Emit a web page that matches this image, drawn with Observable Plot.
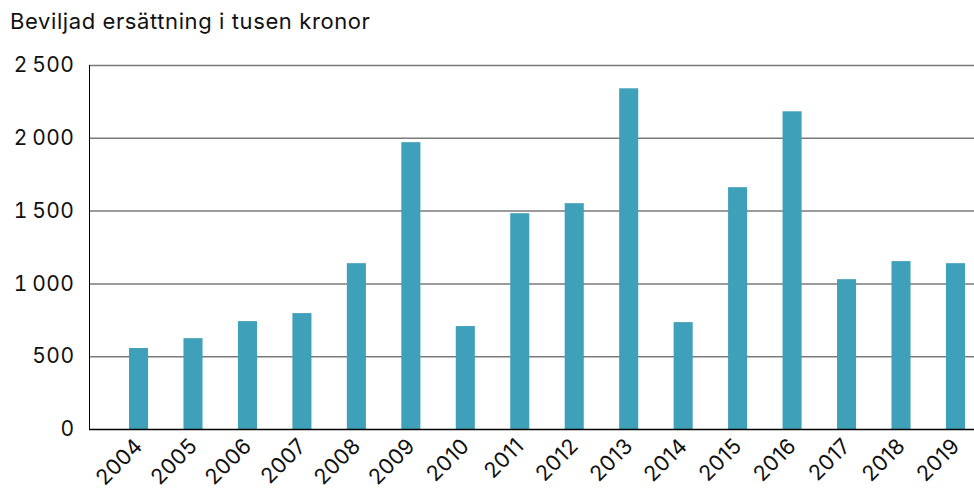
<!DOCTYPE html>
<html><head><meta charset="utf-8">
<script src="https://cdn.jsdelivr.net/npm/d3@7"></script>
<script src="https://cdn.jsdelivr.net/npm/@observablehq/plot@0.6"></script>
<style>
body{margin:0;background:#fff;font-family:Inter,"Noto Sans",sans-serif;color:#111;}
#title{height:34px;padding:9px 0 0 10px;font-size:22px;letter-spacing:0.6px;line-height:24px;box-sizing:content-box;}
#chart svg{display:block;}
#chart svg g[aria-label="y-axis tick label"] text{letter-spacing:0.5px;}
#chart svg g[aria-label="x-axis tick label"] text{letter-spacing:0.3px;}
</style></head><body>
<div id="title">Beviljad ersättning i tusen kronor</div>
<div id="chart"></div>
<script>
const years = ["2004","2005","2006","2007","2008","2009","2010","2011","2012","2013","2014","2015","2016","2017","2018","2019"];
const values = [556, 624, 741, 796, 1139, 1970, 707, 1482, 1551, 2340, 734, 1661, 2182, 1029, 1153, 1139];
const yTicks = [0, 500, 1000, 1500, 2000, 2500];
const yTickLabels = ["0", "500", "1\u2009000", "1\u2009500", "2\u2009000", "2\u2009500"];

const data = years.map((y, i) => ({year: y, value: values[i]}));
const labelOf = new Map(yTicks.map((t, i) => [t, yTickLabels[i]]));

const chart = Plot.plot({
  width: 974,
  height: 447,
  marginLeft: 89,
  marginRight: 0,
  marginTop: 22,
  marginBottom: 61,
  style: {fontFamily: "Inter, 'Noto Sans', sans-serif", fontSize: "20px", color: "#111", background: "#fff"},
  x: {type: "band", domain: years, range: [111.3, 982.7], paddingInner: 0.65, paddingOuter: 0.325, round: false, label: null},
  y: {domain: [0, 2500], label: null},
  marks: [
    Plot.ruleY(yTicks.filter(d => d > 0), {stroke: "#7a7a7a", strokeWidth: 1.5}),
    Plot.barY(data, {x: "year", y: "value", fill: "#3fa0b9"}),
    Plot.ruleY([0], {stroke: "#000", strokeWidth: 1.5}),
    Plot.frame({anchor: "left", stroke: "#000", strokeWidth: 1}),
    Plot.axisY({ticks: yTicks, tickFormat: d => labelOf.get(d), tickSize: 0, tickPadding: 15, fontSize: 21, label: null}),
    Plot.axisX({tickSize: 0, tickRotate: -45, tickPadding: 13, fontSize: 21.5, label: null})
  ]
});
document.getElementById("chart").appendChild(chart);
</script>
</body></html>
